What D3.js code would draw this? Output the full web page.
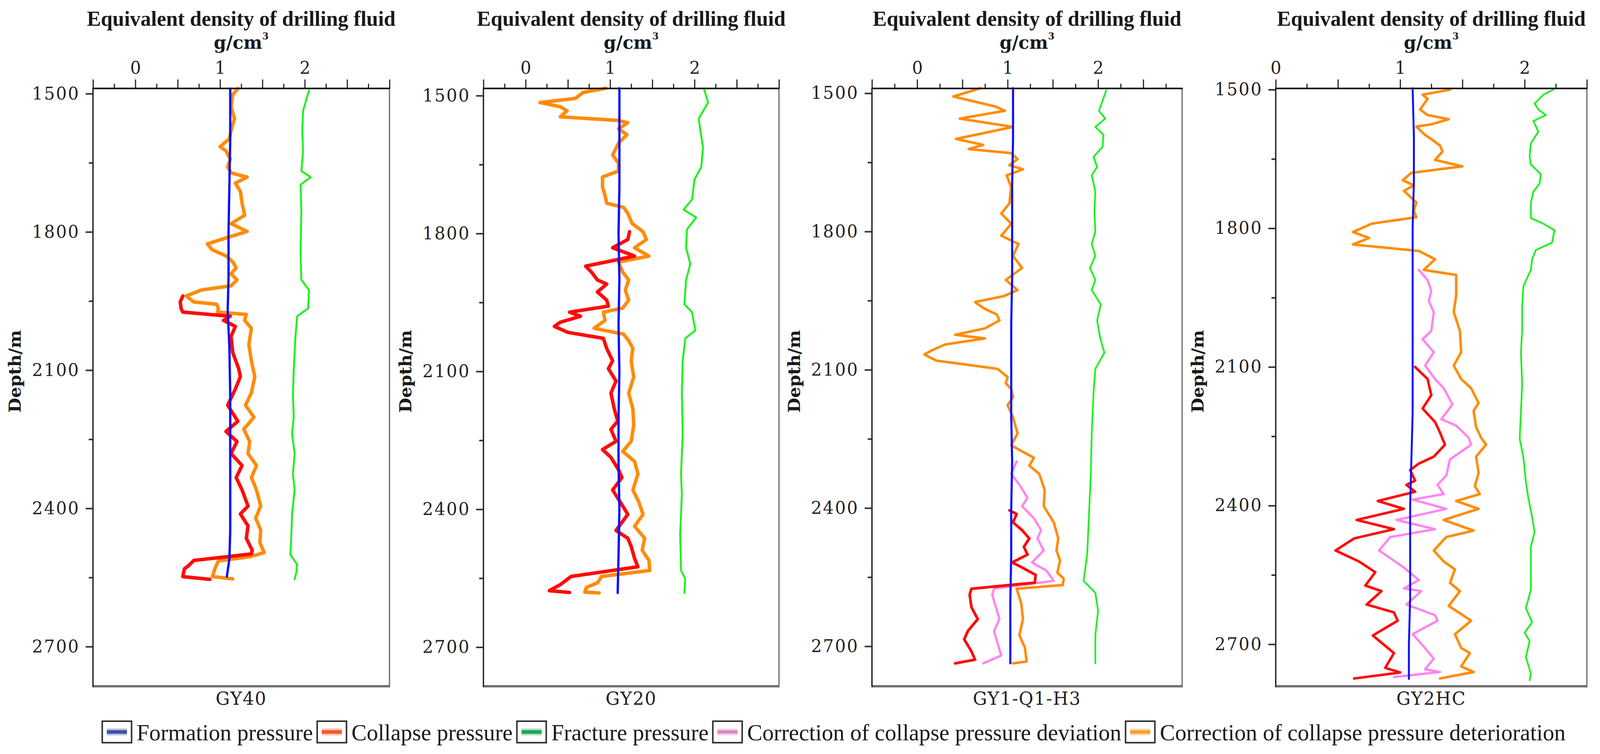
<!DOCTYPE html>
<html><head><meta charset="utf-8">
<script src="https://cdn.jsdelivr.net/npm/d3@7"></script>
<style>
html,body{margin:0;padding:0;background:#fff;width:100%;height:100%;overflow:hidden;}
svg{display:block;width:100vw;height:100vh;}
</style>
</head><body>
<svg id="chart" viewBox="0 0 4147 1931" preserveAspectRatio="none"></svg>
<script>
// ---------------- DATA ----------------
const wellNames = ["GY40", "GY20", "GY1-Q1-H3", "GY2HC"];
const xTickLabels = [0, 1, 2];
const depthTickLabels = [1500, 1800, 2100, 2400, 2700];
const seriesNames = ["Formation pressure", "Collapse pressure", "Fracture pressure",
  "Correction of collapse pressure deviation", "Correction of collapse pressure deterioration"];

// each point: [depth (m), equivalent density (g/cm3)]
const gy40Formation = [[1489,1.12],[1600,1.12],[1700,1.11],[1800,1.10],[1900,1.10],[1970,1.09],[2050,1.11],[2150,1.12],[2300,1.12],[2450,1.12],[2510,1.11],[2548,1.08]];
const gy40Collapse = [[1939,0.56],[1952,0.53],[1966,0.54],[1974,0.56],[1983,1.12],[1992,1.04],[2005,1.18],[2027,1.13],[2062,1.15],[2097,1.22],[2114,1.24],[2141,1.18],[2176,1.09],[2211,1.21],[2233,1.07],[2255,1.20],[2281,1.13],[2307,1.26],[2333,1.19],[2360,1.26],[2395,1.33],[2412,1.24],[2438,1.33],[2465,1.31],[2491,1.38],[2499,1.37],[2513,0.69],[2524,0.63],[2531,0.58],[2548,0.56],[2554,0.88]];
const gy40Fracture = [[1493,2.05],[1537,1.98],[1580,1.97],[1624,1.98],[1668,1.96],[1681,2.07],[1698,1.95],[1755,1.96],[1843,1.95],[1904,1.96],[1926,2.05],[1966,2.04],[1983,1.91],[2027,1.89],[2097,1.87],[2150,1.86],[2202,1.87],[2237,1.85],[2281,1.88],[2325,1.86],[2360,1.88],[2412,1.85],[2465,1.84],[2500,1.83],[2522,1.91],[2539,1.90],[2554,1.88]];
const gy40Deterioration = [[1489,1.21],[1502,1.15],[1528,1.13],[1554,1.17],[1580,1.13],[1598,1.11],[1615,1.00],[1624,1.07],[1642,1.12],[1659,1.09],[1672,1.13],[1681,1.32],[1694,1.18],[1712,1.24],[1738,1.26],[1764,1.29],[1782,1.13],[1799,1.32],[1812,1.09],[1826,0.85],[1839,0.91],[1852,1.07],[1865,1.15],[1878,1.19],[1891,1.13],[1904,1.20],[1917,1.13],[1926,0.78],[1939,0.60],[1952,0.69],[1957,0.96],[1966,0.98],[1974,0.97],[1979,1.31],[1992,1.29],[2009,1.37],[2044,1.34],[2080,1.37],[2114,1.41],[2149,1.37],[2176,1.30],[2202,1.40],[2228,1.28],[2255,1.35],[2281,1.33],[2307,1.43],[2333,1.37],[2360,1.43],[2395,1.48],[2421,1.42],[2447,1.48],[2474,1.47],[2496,1.52],[2505,1.35],[2514,0.98],[2530,0.94],[2548,0.91],[2553,1.15]];

const gy20Formation = [[1484,1.11],[1600,1.11],[1700,1.11],[1800,1.10],[1900,1.11],[2000,1.10],[2100,1.11],[2200,1.10],[2300,1.10],[2400,1.11],[2500,1.10],[2582,1.09]];
const gy20Collapse = [[1796,1.23],[1813,1.21],[1831,1.03],[1849,1.29],[1871,0.71],[1884,0.78],[1901,0.85],[1910,0.96],[1927,0.85],[1945,0.96],[1958,0.98],[1971,0.52],[1980,0.65],[1993,0.41],[2002,0.34],[2015,0.50],[2028,0.92],[2050,0.96],[2077,1.03],[2094,0.98],[2121,1.07],[2147,1.01],[2182,1.05],[2208,1.09],[2226,1.01],[2252,1.07],[2270,0.91],[2287,1.01],[2314,1.10],[2331,1.14],[2358,1.03],[2384,1.12],[2411,1.21],[2446,1.07],[2463,1.21],[2481,1.25],[2507,1.29],[2525,1.33],[2546,0.54],[2564,0.41],[2577,0.28],[2581,0.52]];
const gy20Fracture = [[1484,2.11],[1515,2.16],[1550,2.05],[1577,2.07],[1612,2.10],[1655,2.08],[1682,2.00],[1726,1.97],[1748,1.87],[1765,2.02],[1791,1.91],[1831,1.90],[1866,1.95],[1901,1.90],[1954,1.88],[1971,1.97],[2011,2.01],[2028,1.89],[2077,1.86],[2147,1.85],[2235,1.86],[2323,1.84],[2367,1.85],[2454,1.83],[2533,1.84],[2551,1.89],[2582,1.88]];
const gy20Deterioration = [[1484,0.95],[1493,0.68],[1506,0.59],[1515,0.17],[1524,0.41],[1533,0.49],[1546,0.41],[1554,1.10],[1559,1.21],[1572,1.10],[1585,1.20],[1603,1.10],[1629,1.03],[1647,1.10],[1664,1.10],[1677,0.91],[1699,0.91],[1717,0.94],[1734,0.96],[1743,1.16],[1756,1.21],[1778,1.26],[1796,1.39],[1813,1.43],[1831,1.29],[1849,1.46],[1862,1.10],[1884,1.15],[1901,1.22],[1923,1.18],[1945,1.22],[1962,1.15],[1971,0.92],[1989,0.94],[2006,0.81],[2019,1.16],[2033,1.22],[2050,1.27],[2077,1.25],[2112,1.28],[2147,1.22],[2182,1.27],[2217,1.28],[2252,1.25],[2274,1.15],[2296,1.29],[2323,1.33],[2358,1.27],[2384,1.34],[2411,1.39],[2437,1.29],[2463,1.41],[2489,1.38],[2511,1.46],[2533,1.47],[2546,0.90],[2560,0.85],[2570,0.72],[2580,0.70],[2582,0.87]];

const gy1Formation = [[1489,1.06],[1600,1.06],[1700,1.05],[1800,1.05],[1900,1.05],[2000,1.04],[2100,1.04],[2200,1.04],[2300,1.05],[2400,1.04],[2500,1.04],[2600,1.03],[2737,1.03]];
const gy1Collapse = [[2405,1.02],[2413,1.10],[2431,1.06],[2448,1.16],[2466,1.24],[2484,1.18],[2501,1.22],[2518,1.05],[2527,1.14],[2545,1.31],[2562,1.30],[2575,0.60],[2588,0.58],[2615,0.60],[2641,0.67],[2667,0.56],[2685,0.52],[2711,0.60],[2729,0.64],[2737,0.42]];
const gy1Fracture = [[1494,2.09],[1538,2.01],[1555,2.08],[1573,1.97],[1590,2.06],[1616,2.05],[1638,1.95],[1660,1.99],[1678,1.93],[1713,1.97],[1757,1.96],[1800,1.97],[1827,1.93],[1853,1.97],[1879,1.91],[1905,1.97],[1927,1.93],[1958,2.03],[1993,1.99],[2028,2.02],[2063,2.07],[2098,1.97],[2151,1.95],[2238,1.93],[2326,1.92],[2413,1.90],[2501,1.88],[2558,1.84],[2584,1.97],[2623,2.00],[2676,1.97],[2737,1.97]];
const gy1Deviation = [[2299,1.10],[2326,1.04],[2352,1.14],[2378,1.22],[2396,1.16],[2422,1.29],[2448,1.37],[2466,1.33],[2492,1.40],[2518,1.27],[2536,1.43],[2558,1.51],[2575,0.85],[2588,0.83],[2615,0.87],[2641,0.91],[2667,0.85],[2694,0.89],[2720,0.93],[2737,0.73]];
const gy1Deterioration = [[1489,0.70],[1507,0.40],[1529,0.87],[1538,0.97],[1555,0.47],[1573,1.06],[1599,0.43],[1612,0.73],[1621,0.57],[1630,1.04],[1643,1.11],[1656,1.02],[1665,1.17],[1678,0.99],[1704,1.04],[1739,1.02],[1761,0.93],[1783,1.04],[1809,0.93],[1827,1.12],[1853,1.06],[1879,1.16],[1905,0.98],[1927,1.11],[1940,0.96],[1953,0.64],[1967,0.74],[1980,0.88],[1993,0.91],[2010,0.75],[2024,0.42],[2032,0.75],[2045,0.31],[2059,0.15],[2067,0.08],[2080,0.21],[2098,0.89],[2116,1.00],[2129,0.98],[2142,1.04],[2159,1.06],[2177,1.00],[2203,1.06],[2238,1.11],[2264,1.04],[2291,1.29],[2308,1.24],[2326,1.35],[2361,1.41],[2396,1.40],[2431,1.51],[2466,1.56],[2492,1.54],[2514,1.58],[2540,1.55],[2553,1.62],[2567,1.61],[2575,1.10],[2606,1.15],[2641,1.17],[2676,1.13],[2702,1.19],[2733,1.21],[2737,1.06]];

const gy2hcFormation = [[1497,1.10],[1600,1.11],[1700,1.11],[1800,1.10],[1900,1.10],[2000,1.10],[2100,1.10],[2200,1.10],[2300,1.09],[2400,1.08],[2500,1.08],[2600,1.08],[2700,1.07],[2775,1.07]];
const gy2hcCollapse = [[2100,1.12],[2126,1.22],[2161,1.25],[2190,1.18],[2219,1.28],[2242,1.32],[2268,1.36],[2294,1.27],[2309,1.15],[2323,1.08],[2346,1.12],[2355,1.05],[2370,1.12],[2390,0.82],[2407,1.03],[2431,0.65],[2451,0.95],[2471,0.63],[2497,0.48],[2521,0.67],[2544,0.80],[2573,0.72],[2585,0.85],[2614,0.73],[2631,0.95],[2649,0.98],[2681,0.78],[2719,0.95],[2751,0.88],[2761,1.00],[2774,0.63]];
const gy2hcFracture = [[1500,2.23],[1511,2.15],[1530,2.08],[1543,2.11],[1555,2.17],[1568,2.07],[1591,2.11],[1616,2.05],[1644,2.04],[1662,2.05],[1683,2.13],[1703,2.12],[1721,2.07],[1744,2.05],[1778,2.05],[1790,2.15],[1804,2.24],[1831,2.22],[1847,2.09],[1867,2.06],[1890,2.05],[1925,1.99],[1968,1.98],[2022,1.98],[2068,1.97],[2138,1.98],[2197,1.97],[2255,1.96],[2296,1.99],[2349,2.01],[2384,2.03],[2425,2.06],[2457,2.08],[2489,2.05],[2535,2.05],[2582,2.05],[2622,2.01],[2652,2.06],[2675,2.00],[2693,2.04],[2728,2.01],[2763,2.05],[2778,2.04]];
const gy2hcDeviation = [[1890,1.15],[1912,1.22],[1935,1.25],[1958,1.23],[1981,1.27],[2022,1.25],[2040,1.18],[2068,1.27],[2097,1.20],[2126,1.28],[2146,1.35],[2181,1.42],[2213,1.33],[2227,1.45],[2253,1.55],[2268,1.57],[2300,1.40],[2335,1.37],[2355,1.30],[2375,1.35],[2387,1.10],[2407,1.37],[2431,0.97],[2451,1.28],[2468,0.92],[2497,0.83],[2532,1.02],[2561,1.15],[2579,1.03],[2585,1.17],[2614,1.05],[2637,1.28],[2649,1.30],[2678,1.10],[2702,1.18],[2731,1.27],[2754,1.20],[2760,1.32],[2771,0.95]];
const gy2hcDeterioration = [[1500,1.40],[1511,1.18],[1520,1.22],[1543,1.16],[1555,1.22],[1564,1.39],[1575,1.25],[1580,1.13],[1598,1.20],[1607,1.25],[1621,1.32],[1634,1.34],[1652,1.28],[1666,1.50],[1680,1.09],[1696,1.02],[1707,1.11],[1719,1.03],[1744,1.13],[1762,1.11],[1776,1.13],[1790,0.77],[1808,0.62],[1821,0.75],[1835,0.62],[1849,1.15],[1867,1.28],[1890,1.19],[1901,1.45],[1945,1.45],[1981,1.43],[2022,1.48],[2068,1.49],[2097,1.43],[2126,1.49],[2146,1.57],[2178,1.63],[2195,1.59],[2230,1.61],[2253,1.65],[2268,1.69],[2294,1.61],[2329,1.63],[2358,1.60],[2375,1.64],[2390,1.45],[2407,1.63],[2431,1.35],[2454,1.59],[2468,1.37],[2497,1.27],[2521,1.35],[2538,1.44],[2567,1.40],[2585,1.48],[2617,1.39],[2649,1.57],[2678,1.44],[2708,1.49],[2719,1.56],[2748,1.49],[2760,1.59],[2774,1.32]];

// ---------------- LAYOUT / STYLE ----------------
const W = 4147, H = 1931;
const PT = 226.5, PB = 1757.5;
const colors = {formation:"#0a10ff", collapse:"#ff0a0a", fracture:"#22f022", deviation:"#ff86f0", deterioration:"#ff8c0a"};
const legendColors = ["#3e4fa6", "#f05a28", "#20a552", "#d98cc6", "#f6a034"];
const panels = [
  {name:wellNames[0], left:241, right:1009.5, xd:[-0.5,3.0], yd:[1488.6,2786], w:{o:9,r:9,p:7,b:6,g:5},
   formation:gy40Formation, collapse:gy40Collapse, fracture:gy40Fracture, deviation:null, deterioration:gy40Deterioration},
  {name:wellNames[1], left:1253, right:2019, xd:[-0.5,3.0], yd:[1484.3,2785], w:{o:9,r:9,p:7,b:6,g:5},
   formation:gy20Formation, collapse:gy20Collapse, fracture:gy20Fracture, deviation:null, deterioration:gy20Deterioration},
  {name:wellNames[2], left:2260, right:3064, xd:[-0.5,2.93], yd:[1489.5,2786.7], w:{o:6.5,r:7,p:6,b:5.5,g:4.5},
   formation:gy1Formation, collapse:gy1Collapse, fracture:gy1Fracture, deviation:gy1Deviation, deterioration:gy1Deterioration},
  {name:wellNames[3], left:3306.5, right:4113, xd:[0,2.5], yd:[1497.4,2790.8], w:{o:6.5,r:6.5,p:6,b:5,g:4.5},
   formation:gy2hcFormation, collapse:gy2hcCollapse, fracture:gy2hcFracture, deviation:gy2hcDeviation, deterioration:gy2hcDeterioration}
];

const svg = d3.select("#chart");
svg.append("rect").attr("width", W).attr("height", H).attr("fill", "#fff");

const SERIF = "'DejaVu Serif', serif";
const TIMES = "'Liberation Serif', 'Times New Roman', serif";
const TITLE_W = 800;

panels.forEach(p => {
  const x = d3.scaleLinear().domain(p.xd).range([p.left, p.right]);
  const y = d3.scaleLinear().domain(p.yd).range([PT, PB]);
  const g = svg.append("g");
  const cx = (p.left + p.right) / 2;

  // title: font size fitted to the reference width
  const title = g.append("text").attr("x", cx).attr("y", 66).attr("text-anchor", "middle")
    .attr("font-family", TIMES).attr("font-weight", "bold").attr("font-size", 52)
    .attr("fill", "#1a1a1a").text("Equivalent density of drilling fluid");
  const tw = title.node().getComputedTextLength();
  if (tw > 0) title.attr("font-size", Math.max(44, Math.min(58, 52 * TITLE_W / tw)));

  const unit = g.append("text").attr("x", cx).attr("y", 125).attr("text-anchor", "middle")
    .attr("font-family", SERIF).attr("font-weight", "bold").attr("font-size", 46).attr("fill", "#1a1a1a");
  unit.append("tspan").text("g/cm");
  unit.append("tspan").attr("font-size", 24).attr("dy", -24).text("3");

  // x axis (top)
  const lo = p.xd[0], hi = p.xd[1];
  const majors = d3.range(Math.ceil(lo / 0.5) * 0.5, hi + 1e-6, 0.5).map(v => +v.toFixed(2));
  const minors = d3.range(Math.ceil((lo - 0.25) / 0.5) * 0.5 + 0.25, hi + 1e-6, 0.5).map(v => +v.toFixed(2)).filter(v => v > lo);
  const axMaj = g.append("g").attr("transform", `translate(0,${PT})`)
    .call(d3.axisTop(x).tickValues(majors).tickSize(23).tickPadding(14.5)
      .tickFormat(d => xTickLabels.includes(d) ? String(d) : ""));
  const axMin = g.append("g").attr("transform", `translate(0,${PT})`)
    .call(d3.axisTop(x).tickValues(minors).tickSize(12).tickFormat(""));
  [axMaj, axMin].forEach(a => {
    a.select(".domain").remove();
    a.selectAll("line").attr("stroke", "#222").attr("stroke-width", 3);
  });
  axMaj.selectAll("text").attr("font-family", SERIF).attr("font-size", 44).attr("fill", "#222");

  // y axis (left)
  const yMinors = depthTickLabels.slice(0, -1).map(d => d + 150).filter(d => d < p.yd[1]);
  const ayMaj = g.append("g").attr("transform", `translate(${p.left},0)`)
    .call(d3.axisLeft(y).tickValues(depthTickLabels).tickSize(19).tickPadding(15).tickFormat(d3.format("d")));
  const ayMin = g.append("g").attr("transform", `translate(${p.left},0)`)
    .call(d3.axisLeft(y).tickValues(yMinors).tickSize(11).tickFormat(""));
  [ayMaj, ayMin].forEach(a => {
    a.select(".domain").remove();
    a.selectAll("line").attr("stroke", "#333").attr("stroke-width", 4);
  });
  ayMaj.selectAll("text").attr("font-family", SERIF).attr("font-size", 44).attr("fill", "#222")
    .attr("letter-spacing", 3);

  // y label
  g.append("text").attr("transform", `translate(${p.left - 187},951) rotate(-90)`)
    .attr("text-anchor", "middle").attr("font-family", SERIF).attr("font-weight", "bold")
    .attr("font-size", 44).attr("fill", "#1a1a1a").text("Depth/m");

  // series lines
  const line = d3.line().x(d => x(d[1])).y(d => y(d[0]));
  const draw = (data, color, width) => {
    if (!data) return;
    g.append("path").datum(data).attr("d", line).attr("fill", "none")
      .attr("stroke", color).attr("stroke-width", width)
      .attr("stroke-linejoin", "round").attr("stroke-linecap", "round");
  };
  draw(p.fracture, colors.fracture, p.w.g);
  draw(p.deterioration, colors.deterioration, p.w.o);
  draw(p.deviation, colors.deviation, p.w.p);
  draw(p.collapse, colors.collapse, p.w.r);
  draw(p.formation, colors.formation, p.w.b);

  // frame
  g.append("line").attr("x1", p.right).attr("x2", p.right).attr("y1", PT).attr("y2", PB)
    .attr("stroke", "#777").attr("stroke-width", 3.5);
  g.append("line").attr("x1", p.left - 1).attr("x2", p.right + 1.5).attr("y1", PB).attr("y2", PB)
    .attr("stroke", "#6e6e6e").attr("stroke-width", 6);
  g.append("line").attr("x1", p.left).attr("x2", p.left).attr("y1", PT).attr("y2", PB + 2)
    .attr("stroke", "#222").attr("stroke-width", 3.5);
  g.append("line").attr("x1", p.left - 1.5).attr("x2", p.right + 1.5).attr("y1", PT).attr("y2", PT)
    .attr("stroke", "#111").attr("stroke-width", 4);

  // well name
  g.append("text").attr("x", cx).attr("y", 1805).attr("text-anchor", "middle")
    .attr("font-family", SERIF).attr("font-size", 46).attr("letter-spacing", 2).attr("fill", "#222")
    .text(p.name);
});

// ---------------- LEGEND ----------------
const leg = svg.append("g");
let lx = 265;
const boxY = 1847, boxH = 55, boxW = 76;
seriesNames.forEach((name, i) => {
  leg.append("rect").attr("x", lx).attr("y", boxY).attr("width", boxW).attr("height", boxH)
    .attr("fill", "#fff").attr("stroke", "#333").attr("stroke-width", 4);
  leg.append("line").attr("x1", lx + 12).attr("x2", lx + boxW - 12)
    .attr("y1", boxY + boxH / 2).attr("y2", boxY + boxH / 2)
    .attr("stroke", legendColors[i]).attr("stroke-opacity", 0.35).attr("stroke-width", 18);
  leg.append("line").attr("x1", lx + 12).attr("x2", lx + boxW - 12)
    .attr("y1", boxY + boxH / 2).attr("y2", boxY + boxH / 2)
    .attr("stroke", legendColors[i]).attr("stroke-width", 9);
  const t = leg.append("text").attr("x", lx + boxW + 13).attr("y", 1896)
    .attr("font-family", TIMES).attr("font-size", 59)
    .attr("fill", "#1a1a1a").text(name);
  const tw = t.node().getComputedTextLength();
  lx = lx + boxW + 13 + tw + 11;
});
</script>
</body></html>
